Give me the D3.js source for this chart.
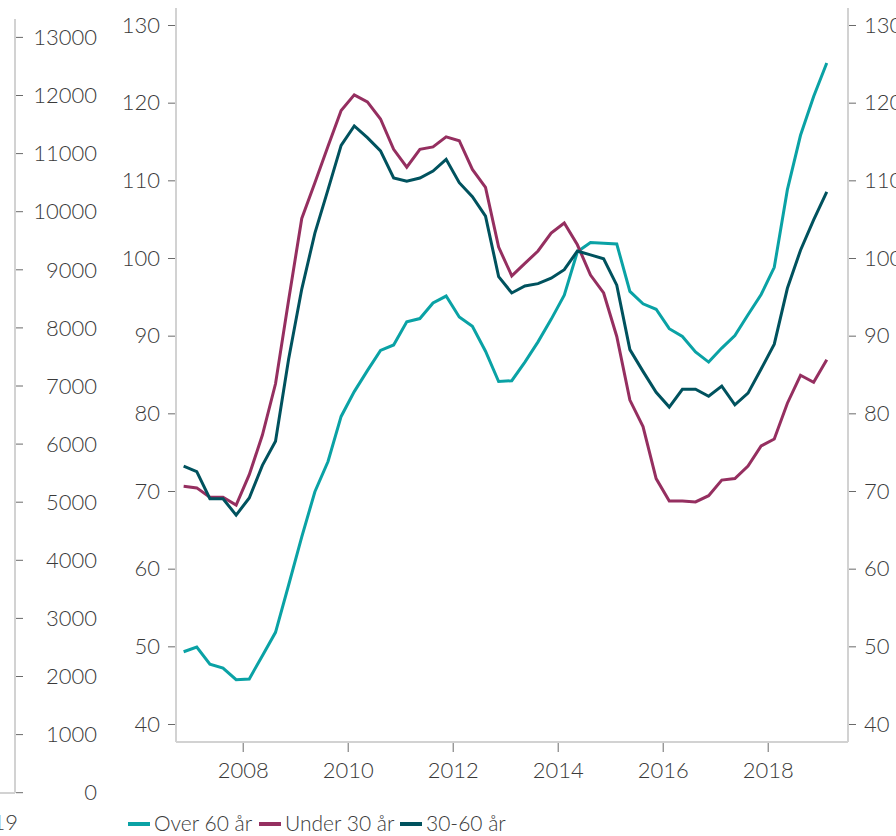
<!DOCTYPE html>
<html>
<head>
<meta charset="utf-8">
<script src="https://cdn.jsdelivr.net/npm/d3@7/dist/d3.min.js"></script>
<style>
  html, body { margin: 0; padding: 0; background: #fff; }
  svg { display: block; font-family: Lato, "Open Sans", "DejaVu Sans", sans-serif; font-weight: 300; }
  .lbl { fill: #3a3a3a; font-size: 22px; }
  .leg { fill: #3a3a3a; font-size: 21px; }
</style>
</head>
<body>
<svg id="chart" width="896" height="836"></svg>
<script>
// ---- data ----
const quarters = [
  "2006Q4",
  "2007Q1","2007Q2","2007Q3","2007Q4",
  "2008Q1","2008Q2","2008Q3","2008Q4",
  "2009Q1","2009Q2","2009Q3","2009Q4",
  "2010Q1","2010Q2","2010Q3","2010Q4",
  "2011Q1","2011Q2","2011Q3","2011Q4",
  "2012Q1","2012Q2","2012Q3","2012Q4",
  "2013Q1","2013Q2","2013Q3","2013Q4",
  "2014Q1","2014Q2","2014Q3","2014Q4",
  "2015Q1","2015Q2","2015Q3","2015Q4",
  "2016Q1","2016Q2","2016Q3","2016Q4",
  "2017Q1","2017Q2","2017Q3","2017Q4",
  "2018Q1","2018Q2","2018Q3","2018Q4",
  "2019Q1"
];
const over60 = [49.3, 49.9, 47.7, 47.2, 45.7, 45.8, 48.8, 51.8, 57.9, 64.1,
  69.9, 73.8, 79.6, 82.8, 85.5, 88.1, 88.8, 91.8, 92.2, 94.2,
  95.1, 92.4, 91.2, 88.0, 84.1, 84.2, 86.6, 89.2, 92.1, 95.2,
  100.8, 102.0, 101.9, 101.8, 95.7, 94.1, 93.4, 90.9, 89.9, 87.9,
  86.6, 88.4, 90.0, 92.7, 95.3, 98.8, 108.8, 115.8, 120.8, 125.1];
const under30 = [70.6, 70.4, 69.2, 69.2, 68.2, 72.1, 77.2, 83.8, 94.6, 105.1,
  109.7, 114.4, 119.0, 121.0, 120.1, 117.9, 114.0, 111.7, 114.0, 114.3,
  115.6, 115.1, 111.4, 109.1, 101.4, 97.7, 99.3, 100.9, 103.2, 104.5,
  101.7, 97.8, 95.5, 89.9, 81.7, 78.3, 71.6, 68.7, 68.7, 68.6,
  69.4, 71.4, 71.6, 73.2, 75.8, 76.7, 81.3, 84.9, 84.0, 86.9];
const age30to60 = [73.2, 72.5, 69.0, 69.0, 66.9, 69.1, 73.3, 76.4, 87.0, 96.0,
  103.2, 108.8, 114.5, 117.0, 115.5, 113.8, 110.3, 109.9, 110.3, 111.2,
  112.7, 109.7, 107.9, 105.4, 97.6, 95.5, 96.4, 96.7, 97.4, 98.5,
  100.9, 100.4, 99.9, 96.5, 88.2, 85.4, 82.7, 80.8, 83.1, 83.1,
  82.2, 83.5, 81.1, 82.6, 85.7, 88.9, 96.1, 101.0, 104.9, 108.5];
const seriesNames = ["Over 60 år", "Under 30 år", "30-60 år"];
const seriesColors = ["#0aa2a5", "#952f60", "#00525e"];
const yTicks = [40, 50, 60, 70, 80, 90, 100, 110, 120, 130];
const xTicks = [2008, 2010, 2012, 2014, 2016, 2018];
const leftTicks = [0, 1000, 2000, 3000, 4000, 5000, 6000, 7000, 8000, 9000, 10000, 11000, 12000, 13000];
const cutLabel = "2019";

// ---- helpers ----
const qToYear = q => +q.slice(0, 4) + (+q.slice(5) - 1) * 0.25 + 0.125;

const svg = d3.select("#chart");
const axisColor = "#d2d2d2";
const tickColor = "#6a6a6a";

// ---- partial chart on the left (cut off) ----
const yLeft = d3.scaleLinear().domain([0, 13000]).range([792.7, 37.4]);
svg.append("line").attr("x1", 15).attr("x2", 15).attr("y1", 19).attr("y2", 793)
  .attr("stroke", axisColor).attr("stroke-width", 2);
svg.append("line").attr("x1", 0).attr("x2", 15).attr("y1", 793).attr("y2", 793)
  .attr("stroke", axisColor).attr("stroke-width", 2);
const gl = svg.append("g");
gl.selectAll("line.t").data(leftTicks).join("line")
  .attr("x1", 16).attr("x2", 23)
  .attr("y1", d => yLeft(d)).attr("y2", d => yLeft(d))
  .attr("stroke", tickColor).attr("stroke-width", 1);
gl.selectAll("text").data(leftTicks).join("text")
  .attr("class", "lbl").attr("x", 97).attr("y", d => yLeft(d))
  .attr("dy", "0.35em").attr("text-anchor", "end").text(d => d);
svg.append("text").attr("class", "lbl").attr("x", 18).attr("y", 822)
  .attr("dy", "0.35em").attr("text-anchor", "end").text(cutLabel);

// ---- main chart ----
const x = d3.scaleLinear().domain([2008, 2018]).range([242.7, 767.7]);
const y = d3.scaleLinear().domain([40, 130]).range([724, 25]);
const plotL = 176, plotR = 848, plotT = 8, plotB = 742;

// axis frame lines
svg.append("line").attr("x1", plotL).attr("x2", plotL).attr("y1", plotT).attr("y2", plotB)
  .attr("stroke", axisColor).attr("stroke-width", 2);
svg.append("line").attr("x1", plotR).attr("x2", plotR).attr("y1", plotT).attr("y2", plotB)
  .attr("stroke", axisColor).attr("stroke-width", 2);
svg.append("line").attr("x1", plotL).attr("x2", plotR).attr("y1", plotB).attr("y2", plotB)
  .attr("stroke", axisColor).attr("stroke-width", 2);

function styleAxis(g) {
  g.attr("font-family", null).attr("font-size", null);
  g.select(".domain").remove();
  g.selectAll(".tick line").attr("stroke", tickColor).attr("stroke-width", 1);
  g.selectAll(".tick text").attr("class", "lbl").attr("fill", null);
}

svg.append("g").attr("transform", `translate(${plotL - 1},0)`)
  .call(d3.axisLeft(y).tickValues(yTicks).tickSize(7).tickPadding(8).tickFormat(d3.format("d")))
  .call(styleAxis);
svg.append("g").attr("transform", `translate(${plotR + 1},0)`)
  .call(d3.axisRight(y).tickValues(yTicks).tickSize(7).tickPadding(8).tickFormat(d3.format("d")))
  .call(styleAxis);
svg.append("g").attr("transform", `translate(0,${plotB + 1})`)
  .call(d3.axisBottom(x).tickValues(xTicks).tickSize(9).tickPadding(10).tickFormat(d3.format("d")))
  .call(styleAxis);

// lines
const allSeries = [over60, under30, age30to60];
const line = d3.line().x(d => x(d.t)).y(d => y(d.v));
allSeries.forEach((vals, i) => {
  const pts = quarters.map((q, j) => ({ t: qToYear(q), v: vals[j] }));
  svg.append("path").datum(pts)
    .attr("fill", "none").attr("stroke", seriesColors[i])
    .attr("stroke-width", 3).attr("stroke-linejoin", "miter")
    .attr("d", line);
});

// legend
const legendItems = [
  { x: 128, w: 22 }, { x: 259, w: 22 }, { x: 400, w: 22 }
];
const lg = svg.append("g");
seriesNames.forEach((name, i) => {
  const it = legendItems[i];
  lg.append("line").attr("x1", it.x).attr("x2", it.x + it.w).attr("y1", 824).attr("y2", 824)
    .attr("stroke", seriesColors[i]).attr("stroke-width", 4);
  lg.append("text").attr("class", "leg").attr("x", it.x + it.w + 4).attr("y", 824)
    .attr("dy", "0.35em").text(name);
});
</script>
</body>
</html>
